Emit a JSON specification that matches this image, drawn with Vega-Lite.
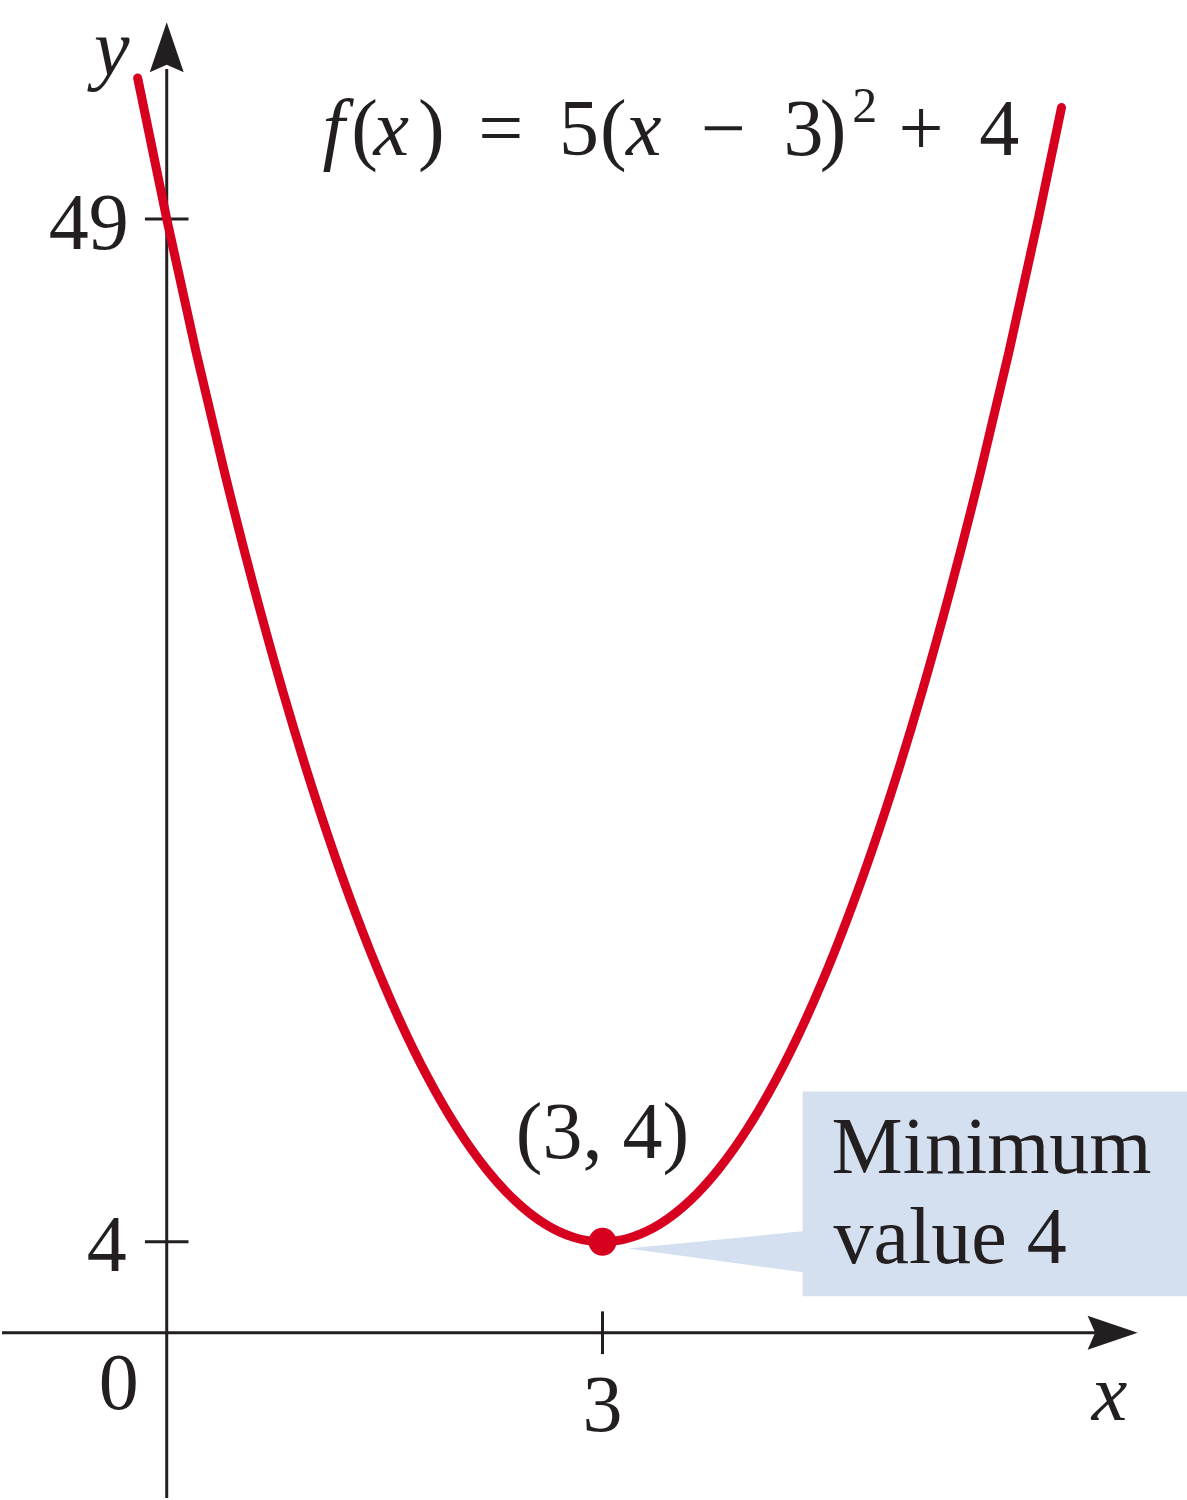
{
  "$schema": "https://vega.github.io/schema/vega-lite/v6.json",
  "width": 1187,
  "height": 1500,
  "autosize": {"type": "fit", "contains": "padding"},
  "padding": 0,
  "background": "white",
  "config": {"view": {"stroke": null}},
  "layer": [
    {
      "data": {"values": [{"x1": 4.378, "x2": 7.03, "y1": 10.61, "y2": 1.6}]},
      "mark": {"type": "rect", "color": "#d4e0ef", "clip": true},
      "encoding": {
        "x": {"field": "x1", "type": "quantitative", "axis": null, "scale": {"domain": [-1.134, 7.024], "nice": false, "zero": false}},
        "x2": {"field": "x2"},
        "y": {"field": "y1", "type": "quantitative", "axis": null, "scale": {"domain": [-7.27, 58.63], "nice": false, "zero": false}},
        "y2": {"field": "y2"}
      }
    },
    {
      "data": {"values": [{"x": 3.175, "ytop": 3.71, "ybot": 3.71}, {"x": 4.38, "ytop": 4.46, "ybot": 2.66}]},
      "mark": {"type": "area", "color": "#d4e0ef", "interpolate": "linear", "opacity": 1},
      "encoding": {
        "x": {"field": "x", "type": "quantitative", "axis": null, "scale": {"domain": [-1.134, 7.024], "nice": false, "zero": false}},
        "y": {"field": "ytop", "type": "quantitative", "axis": null, "scale": {"domain": [-7.27, 58.63], "nice": false, "zero": false}},
        "y2": {"field": "ybot"}
      }
    },
    {
      "data": {"values": [
        {"x1": -1.134, "x2": 6.45, "y1": 0, "y2": 0},
        {"x1": 0, "x2": 0, "y1": -7.27, "y2": 55.6},
        {"x1": -0.15, "x2": 0.15, "y1": 49, "y2": 49},
        {"x1": -0.15, "x2": 0.15, "y1": 4, "y2": 4},
        {"x1": 3, "x2": 3, "y1": -0.94, "y2": 0.94}
      ]},
      "mark": {"type": "rule", "color": "#231f20", "strokeWidth": 3},
      "encoding": {
        "x": {"field": "x1", "type": "quantitative", "axis": null, "scale": {"domain": [-1.134, 7.024], "nice": false, "zero": false}},
        "x2": {"field": "x2"},
        "y": {"field": "y1", "type": "quantitative", "axis": null, "scale": {"domain": [-7.27, 58.63], "nice": false, "zero": false}},
        "y2": {"field": "y2"}
      }
    },
    {
      "data": {"values": [{"x": 6.512, "y": 0, "dir": "right"}, {"x": 0, "y": 56.55, "dir": "up"}]},
      "mark": {"type": "point", "filled": true, "color": "#231f20", "size": 2500, "opacity": 1},
      "encoding": {
        "x": {"field": "x", "type": "quantitative", "axis": null, "scale": {"domain": [-1.134, 7.024], "nice": false, "zero": false}},
        "y": {"field": "y", "type": "quantitative", "axis": null, "scale": {"domain": [-7.27, 58.63], "nice": false, "zero": false}},
        "shape": {"field": "dir", "type": "nominal", "legend": null, "scale": {"domain": ["right", "up"], "range": ["M1,0L-1,0.68L-0.7,0L-1,-0.68Z", "M0,-1L0.68,1L0,0.7L-0.68,1Z"]}}
      }
    },
    {
      "data": {"values": [
        {"x": -0.2, "y": 55.2}, {"x": 0, "y": 49}, {"x": 0.2, "y": 43.2}, {"x": 0.4, "y": 37.8},
        {"x": 0.6, "y": 32.8}, {"x": 0.8, "y": 28.2}, {"x": 1.0, "y": 24}, {"x": 1.2, "y": 20.2},
        {"x": 1.4, "y": 16.8}, {"x": 1.6, "y": 13.8}, {"x": 1.8, "y": 11.2}, {"x": 2.0, "y": 9},
        {"x": 2.2, "y": 7.2}, {"x": 2.4, "y": 5.8}, {"x": 2.6, "y": 4.8}, {"x": 2.8, "y": 4.2},
        {"x": 3.0, "y": 4}, {"x": 3.2, "y": 4.2}, {"x": 3.4, "y": 4.8}, {"x": 3.6, "y": 5.8},
        {"x": 3.8, "y": 7.2}, {"x": 4.0, "y": 9}, {"x": 4.2, "y": 11.2}, {"x": 4.4, "y": 13.8},
        {"x": 4.6, "y": 16.8}, {"x": 4.8, "y": 20.2}, {"x": 5.0, "y": 24}, {"x": 5.2, "y": 28.2},
        {"x": 5.4, "y": 32.8}, {"x": 5.6, "y": 37.8}, {"x": 5.8, "y": 43.2}, {"x": 6.0, "y": 49},
        {"x": 6.16, "y": 53.9}
      ]},
      "mark": {"type": "line", "color": "#d7001f", "strokeWidth": 9, "strokeCap": "round", "interpolate": "monotone"},
      "encoding": {
        "x": {"field": "x", "type": "quantitative", "axis": null, "scale": {"domain": [-1.134, 7.024], "nice": false, "zero": false}},
        "y": {"field": "y", "type": "quantitative", "axis": null, "scale": {"domain": [-7.27, 58.63], "nice": false, "zero": false}}
      }
    },
    {
      "data": {"values": [{"x": 3, "y": 4}]},
      "mark": {"type": "point", "shape": "circle", "filled": true, "color": "#d7001f", "size": 784, "opacity": 1},
      "encoding": {
        "x": {"field": "x", "type": "quantitative", "axis": null, "scale": {"domain": [-1.134, 7.024], "nice": false, "zero": false}},
        "y": {"field": "y", "type": "quantitative", "axis": null, "scale": {"domain": [-7.27, 58.63], "nice": false, "zero": false}}
      }
    },
    {
      "data": {"values": [
        {"x": -0.261, "y": 47.69, "t": "49"},
        {"x": -0.275, "y": 2.7, "t": "4"}
      ]},
      "mark": {"type": "text", "font": "Liberation Serif", "fontSize": 80, "align": "right", "baseline": "alphabetic", "color": "#231f20"},
      "encoding": {
        "x": {"field": "x", "type": "quantitative", "axis": null, "scale": {"domain": [-1.134, 7.024], "nice": false, "zero": false}},
        "y": {"field": "y", "type": "quantitative", "axis": null, "scale": {"domain": [-7.27, 58.63], "nice": false, "zero": false}},
        "text": {"field": "t"}
      }
    },
    {
      "data": {"values": [
        {"x": -0.33, "y": -3.36, "t": "0"},
        {"x": 3, "y": -4.33, "t": "3"},
        {"x": 3, "y": 7.67, "t": "(3, 4)"}
      ]},
      "mark": {"type": "text", "font": "Liberation Serif", "fontSize": 80, "align": "center", "baseline": "alphabetic", "color": "#231f20"},
      "encoding": {
        "x": {"field": "x", "type": "quantitative", "axis": null, "scale": {"domain": [-1.134, 7.024], "nice": false, "zero": false}},
        "y": {"field": "y", "type": "quantitative", "axis": null, "scale": {"domain": [-7.27, 58.63], "nice": false, "zero": false}},
        "text": {"field": "t"}
      }
    },
    {
      "data": {"values": [
        {"x": 6.49, "y": -3.84, "t": "x"},
        {"x": -0.378, "y": 55.35, "t": "y"}
      ]},
      "mark": {"type": "text", "font": "Liberation Serif", "fontSize": 80, "fontStyle": "italic", "align": "center", "baseline": "alphabetic", "color": "#231f20"},
      "encoding": {
        "x": {"field": "x", "type": "quantitative", "axis": null, "scale": {"domain": [-1.134, 7.024], "nice": false, "zero": false}},
        "y": {"field": "y", "type": "quantitative", "axis": null, "scale": {"domain": [-7.27, 58.63], "nice": false, "zero": false}},
        "text": {"field": "t"}
      }
    },
    {
      "data": {"values": [
        {"x": 4.577, "y": 7.01, "t": "Minimum"},
        {"x": 4.59, "y": 3.05, "t": "value 4"},
        {"x": 1.271, "y": 51.82, "t": "("},
        {"x": 1.73, "y": 51.82, "t": ")"},
        {"x": 2.144, "y": 51.82, "t": "="},
        {"x": 2.701, "y": 51.82, "t": "5"},
        {"x": 2.983, "y": 51.82, "t": "("},
        {"x": 3.677, "y": 51.82, "t": "−"},
        {"x": 4.247, "y": 51.82, "t": "3"},
        {"x": 4.495, "y": 51.82, "t": ")"},
        {"x": 5.038, "y": 51.82, "t": "+"},
        {"x": 5.594, "y": 51.82, "t": "4"}
      ]},
      "mark": {"type": "text", "font": "Liberation Serif", "fontSize": 80, "align": "left", "baseline": "alphabetic", "color": "#231f20"},
      "encoding": {
        "x": {"field": "x", "type": "quantitative", "axis": null, "scale": {"domain": [-1.134, 7.024], "nice": false, "zero": false}},
        "y": {"field": "y", "type": "quantitative", "axis": null, "scale": {"domain": [-7.27, 58.63], "nice": false, "zero": false}},
        "text": {"field": "t"}
      }
    },
    {
      "data": {"values": [
        {"x": 1.072, "y": 51.82, "t": "f"},
        {"x": 1.423, "y": 51.82, "t": "x"},
        {"x": 3.162, "y": 51.82, "t": "x"}
      ]},
      "mark": {"type": "text", "font": "Liberation Serif", "fontSize": 80, "fontStyle": "italic", "align": "left", "baseline": "alphabetic", "color": "#231f20"},
      "encoding": {
        "x": {"field": "x", "type": "quantitative", "axis": null, "scale": {"domain": [-1.134, 7.024], "nice": false, "zero": false}},
        "y": {"field": "y", "type": "quantitative", "axis": null, "scale": {"domain": [-7.27, 58.63], "nice": false, "zero": false}},
        "text": {"field": "t"}
      }
    },
    {
      "data": {"values": [{"x": 4.72, "y": 53.27, "t": "2"}]},
      "mark": {"type": "text", "font": "Liberation Serif", "fontSize": 50, "align": "left", "baseline": "alphabetic", "color": "#231f20"},
      "encoding": {
        "x": {"field": "x", "type": "quantitative", "axis": null, "scale": {"domain": [-1.134, 7.024], "nice": false, "zero": false}},
        "y": {"field": "y", "type": "quantitative", "axis": null, "scale": {"domain": [-7.27, 58.63], "nice": false, "zero": false}},
        "text": {"field": "t"}
      }
    }
  ]
}
